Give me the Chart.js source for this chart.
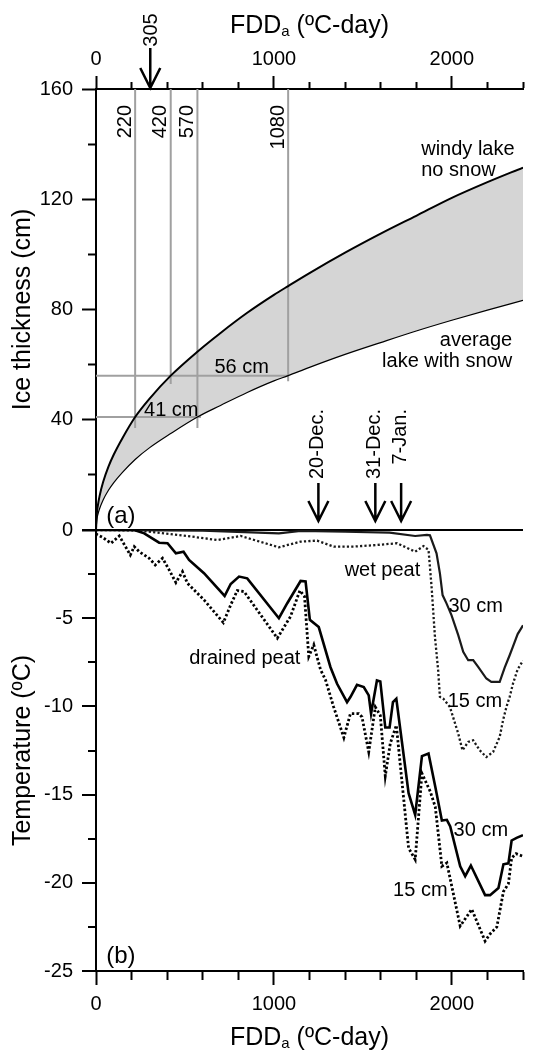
<!DOCTYPE html>
<html>
<head>
<meta charset="utf-8">
<script src="https://cdn.jsdelivr.net/npm/chart.js@4.4.1/dist/chart.umd.min.js"></script>
<style>
  html, body { margin: 0; padding: 0; background: #fff; }
  #wrap { width: 538px; height: 1051px; }
</style>
</head>
<body>
<div id="wrap"><canvas id="chart"></canvas></div>
<script>
const FONT = '"Liberation Sans", Arial, sans-serif';

// (a) ice thickness (cm) against air freezing degree-days
const fddIce = [0, 5, 10, 20, 40, 70, 100, 150, 220, 300, 420, 570, 700, 850, 1000, 1080, 1200, 1400, 1600, 1800, 2000, 2200, 2400];
const iceWindy = [0, 6.2, 8.7, 12.3, 17.4, 23, 27.4, 33.5, 41, 47.6, 56, 64.7, 71.5, 78.8, 85.3, 88.5, 93.2, 100.6, 107.5, 114, 120.5, 126.2, 131.5];
const iceSnow = [0, 3.9, 5.5, 7.7, 10.9, 14.4, 17.2, 21, 25.6, 29.8, 35, 41, 45.2, 49.9, 54.1, 56, 59, 63.7, 68, 72.2, 76.1, 79.8, 83.3];

// grey guide lines
const guideFdd = [220, 420, 570, 1080];
const guideLow = [37, 53, 37, 54];
const guideCm = [41, 56];
const guideCmEnd = [590, 1080];

const markFdd = 305;
const dateNames = ['20-Dec.', '31-Dec.', '7-Jan.'];
const dateFdd = [1250, 1570, 1715];

// (b) peat temperature (ºC)
const drained30Fdd = [0, 215, 271, 355, 402, 449, 492, 523, 607, 723, 757, 804, 850, 1028, 1075, 1150, 1178, 1202, 1252, 1318, 1355, 1411, 1430, 1467, 1505, 1533, 1546, 1579, 1598, 1626, 1650, 1669, 1688, 1757, 1794, 1832, 1869, 1907, 1944, 1972, 1991, 2047, 2075, 2107, 2187, 2215, 2262, 2290, 2318, 2336, 2364, 2400];
const drained30T = [0, 0, -0.19, -0.72, -0.75, -1.32, -1.23, -1.7, -2.45, -3.74, -3.06, -2.64, -2.74, -5.0, -4.15, -2.89, -2.92, -5.09, -5.5, -7.78, -8.72, -9.76, -9.47, -8.78, -8.9, -9.38, -10.41, -8.53, -8.59, -11.2, -11.2, -9.76, -9.57, -14.92, -16.15, -12.82, -12.67, -14.55, -16.47, -16.43, -16.8, -19.06, -19.62, -19.02, -20.7, -20.7, -20.3, -18.95, -18.9, -17.6, -17.45, -17.3];

const drained15Fdd = [0, 9, 37, 84, 131, 193, 215, 243, 299, 333, 374, 411, 449, 486, 514, 607, 716, 757, 794, 832, 1019, 1093, 1146, 1172, 1196, 1224, 1262, 1290, 1336, 1393, 1430, 1477, 1495, 1533, 1570, 1598, 1626, 1654, 1688, 1757, 1794, 1832, 1879, 1907, 1944, 1972, 2047, 2112, 2187, 2215, 2253, 2290, 2318, 2336, 2361, 2400];
const drained15T = [-0.2, -0.28, -0.42, -0.75, -0.34, -1.42, -0.94, -1.23, -1.6, -1.98, -1.6, -2.26, -2.98, -2.36, -3.02, -3.96, -5.25, -4.25, -3.43, -3.49, -6.13, -4.91, -3.43, -3.77, -7.17, -6.51, -7.92, -8.5, -10.04, -11.77, -10.41, -10.41, -10.6, -12.58, -10.04, -10.51, -13.95, -12.1, -11.07, -18.03, -18.68, -13.8, -14.83, -15.7, -19.06, -18.87, -22.45, -21.5, -23.3, -22.9, -22.5, -20.5, -20.05, -18.6, -18.35, -18.5];

const wet30Fdd = [0, 600, 1028, 1150, 1400, 1650, 1794, 1860, 1877, 1914, 1933, 1948, 1970, 1998, 2036, 2064, 2092, 2120, 2148, 2194, 2222, 2269, 2297, 2325, 2344, 2370, 2400];
const wet30T = [0, -0.03, -0.19, -0.05, -0.1, -0.15, -0.34, -0.28, -0.3, -1.32, -2.46, -3.69, -4.16, -4.82, -5.96, -6.9, -7.38, -7.38, -7.76, -8.42, -8.61, -8.61, -7.8, -7.1, -6.6, -5.9, -5.4];

const wet15Fdd = [0, 200, 308, 514, 682, 813, 1028, 1150, 1243, 1336, 1449, 1579, 1692, 1794, 1841, 1869, 1886, 1905, 1923, 1933, 1951, 1989, 2036, 2060, 2092, 2120, 2157, 2194, 2232, 2269, 2288, 2307, 2325, 2344, 2370, 2400];
const wet15T = [0, -0.02, -0.1, -0.34, -0.57, -0.34, -0.98, -0.66, -0.6, -0.94, -0.94, -0.85, -0.75, -1.23, -0.91, -1.13, -3.2, -6.05, -7.94, -9.46, -9.55, -10.03, -11.54, -12.49, -12.01, -11.92, -12.49, -12.87, -12.58, -11.73, -10.78, -10.03, -9.46, -8.7, -7.9, -7.4];

function pts(xs, ys) {
	return xs.map((v, i) => ({x: v, y: ys[i]}));
}

let datasets = [
	{data: pts(fddIce, iceWindy), yAxisID: 'y', borderColor: '#000', borderWidth: 2, fill: '+1', backgroundColor: '#d5d5d5', cubicInterpolationMode: 'monotone'},
	{data: pts(fddIce, iceSnow), yAxisID: 'y', borderColor: '#000', borderWidth: 1.2, fill: false, cubicInterpolationMode: 'monotone'},
	{data: pts(drained30Fdd, drained30T), yAxisID: 'yb', borderColor: '#000', borderWidth: 2.6},
	{data: pts(drained15Fdd, drained15T), yAxisID: 'yb', borderColor: '#000', borderWidth: 2.8, borderDash: [2.4, 2.2]},
	{data: pts(wet30Fdd, wet30T), yAxisID: 'yb', borderColor: '#1a1a1a', borderWidth: 2.2},
	{data: pts(wet15Fdd, wet15T), yAxisID: 'yb', borderColor: '#1a1a1a', borderWidth: 2.3, borderDash: [2.2, 2.2]},
];
guideFdd.forEach((f, i) => {
	datasets.push({data: [{x: f, y: 160}, {x: f, y: guideLow[i]}], yAxisID: 'y', borderColor: '#a0a0a0', borderWidth: 2});
});
guideCm.forEach((c, i) => {
	datasets.push({data: [{x: 0, y: c}, {x: guideCmEnd[i], y: c}], yAxisID: 'y', borderColor: '#a0a0a0', borderWidth: 2});
});
datasets.forEach(d => { d.xAxisID = 'x'; d.tension = d.tension || 0; });

function fddTitle(ctx, cx, base) {
	const big = '25px ' + FONT, small = '15px ' + FONT;
	ctx.font = big;
	const w1 = ctx.measureText('FDD').width;
	const w3 = ctx.measureText(' (ºC-day)').width;
	ctx.font = small;
	const w2 = ctx.measureText('a').width;
	let left = cx - (w1 + w2 + w3) / 2;
	ctx.textAlign = 'left';
	ctx.textBaseline = 'alphabetic';
	ctx.fillStyle = '#000';
	ctx.font = big;
	ctx.fillText('FDD', left, base);
	ctx.font = small;
	ctx.fillText('a', left + w1, base + 3);
	ctx.font = big;
	ctx.fillText(' (ºC-day)', left + w1 + w2, base);
}

const notes = {
	id: 'notes',
	afterDraw(chart) {
		const {ctx} = chart;
		const {x, x2, y, yb} = chart.scales;
		const X = v => x.getPixelForValue(v);
		const put = (str, px, py, align, size = 20, rot = 0) => {
			ctx.save();
			ctx.translate(px, py);
			if (rot) ctx.rotate(rot);
			ctx.font = size + 'px ' + FONT;
			ctx.textAlign = align;
			ctx.textBaseline = 'middle';
			ctx.fillStyle = '#000';
			ctx.fillText(str, 0, 0);
			ctx.restore();
		};
		const arrow = (px, y0, y1) => {
			ctx.save();
			ctx.strokeStyle = '#000';
			ctx.lineWidth = 2.5;
			ctx.beginPath();
			ctx.moveTo(px, y0);
			ctx.lineTo(px, y1);
			ctx.moveTo(px - 10, y1 - 20);
			ctx.lineTo(px, y1);
			ctx.lineTo(px + 10, y1 - 20);
			ctx.stroke();
			ctx.restore();
		};
		const up = -Math.PI / 2;
		const top = y.getPixelForValue(160);
		const zero = y.getPixelForValue(0);
		const mid = (x.left + x.right) / 2;

		ctx.save();
		fddTitle(ctx, mid, x2.top + 33);
		fddTitle(ctx, mid, x.bottom - 6);
		ctx.restore();

		// panel (a)
		guideFdd.forEach(f => put(String(f), X(f) - 10, top + 16, 'right', 20, up));
		put(String(markFdd), X(markFdd) + 1, top - 59, 'center', 20, up);
		arrow(X(markFdd), top - 41, top - 1);
		dateFdd.forEach((f, i) => {
			put(dateNames[i], X(f) - 1, zero - 121, 'right', 20, up);
			arrow(X(f), zero - 47, zero - 9);
		});
		put('windy lake', X(1828), y.getPixelForValue(138.2), 'left');
		put('no snow', X(1828), y.getPixelForValue(130.6), 'left');
		put('average', X(2339), y.getPixelForValue(68.9), 'right');
		put('lake with snow', X(2339), y.getPixelForValue(61), 'right');
		put('56 cm', X(819), y.getPixelForValue(59.1), 'center');
		put('41 cm', X(423), y.getPixelForValue(43.5), 'center');
		put('(a)', X(140), y.getPixelForValue(5.1), 'center', 24);

		// panel (b)
		put('wet peat', X(1610), yb.getPixelForValue(-2.27), 'center');
		put('drained peat', X(836), yb.getPixelForValue(-7.28), 'center');
		put('30 cm', X(2134), yb.getPixelForValue(-4.35), 'center');
		put('15 cm', X(2130), yb.getPixelForValue(-9.74), 'center');
		put('30 cm', X(2163), yb.getPixelForValue(-17.03), 'center');
		put('15 cm', X(1823), yb.getPixelForValue(-20.43), 'center');
		put('(b)', X(140), yb.getPixelForValue(-24.18), 'center', 24);
	}
};

const tickFont = {family: FONT, size: 20};
const titleFont = {family: FONT, size: 25};

function xAxis(pos, height, dash) {
	return {
		type: 'linear',
		position: pos,
		min: 0,
		max: 2400,
		afterFit: s => { s.height = height; },
		border: {color: '#000', width: 2},
		grid: {
			drawOnChartArea: false,
			tickLength: pos === 'top' ? 13 : 14,
			tickWidth: 2,
			tickColor: '#000',
			tickBorderDash: c => (c.tick && c.tick.value % 1000 === 0) ? [] : dash,
		},
		ticks: {
			stepSize: 200,
			autoSkip: false,
			maxRotation: 0,
			padding: pos === 'top' ? 5 : 7,
			color: '#000',
			font: tickFont,
			callback: v => v % 1000 === 0 ? v : '',
		},
	};
}

const chartOptions = {
	responsive: true,
	maintainAspectRatio: false,
	animation: false,
	devicePixelRatio: 1,
	layout: {padding: {left: 0, right: 15, top: 0, bottom: 0}},
	elements: {point: {radius: 0, hoverRadius: 0}},
	plugins: {
		legend: {display: false},
		tooltip: {enabled: false},
		filler: {drawTime: 'beforeDatasetsDraw'},
	},
	scales: {
		x: xAxis('bottom', 80, [8, 60]),
		x2: xAxis('top', 89, [0, 6, 7, 60]),
		yb: {
			type: 'linear',
			position: 'left',
			stack: 'panels',
			stackWeight: 1,
			weight: 0,
			min: -25,
			max: 0,
			afterFit: s => { s.width = 96; },
			border: {color: '#000', width: 2},
			grid: {
				drawOnChartArea: true,
				color: c => (c.tick && c.tick.value === 0) ? '#000' : 'rgba(0,0,0,0)',
				lineWidth: c => (c.tick && c.tick.value === 0) ? 2 : 0,
				tickLength: 14,
				tickWidth: 2,
				tickColor: '#000',
				tickBorderDash: c => (c.tick && c.tick.value % 5 === 0) ? [] : [0, 6, 8, 60],
			},
			ticks: {
				stepSize: 2.5,
				autoSkip: false,
				padding: 9,
				color: '#000',
				font: tickFont,
				callback: v => v % 5 === 0 ? v : '',
			},
			title: {display: true, text: 'Temperature (ºC)', color: '#000', font: titleFont, padding: {top: 8, bottom: 0}},
		},
		y: {
			type: 'linear',
			position: 'left',
			stack: 'panels',
			stackWeight: 1,
			weight: 1,
			min: 0,
			max: 160,
			afterFit: s => { s.width = 96; },
			border: {color: '#000', width: 2},
			grid: {
				drawOnChartArea: false,
				tickLength: 14,
				tickWidth: 2,
				tickColor: '#000',
				tickBorderDash: c => (c.tick && c.tick.value % 40 === 0) ? [] : [0, 6, 8, 60],
			},
			ticks: {
				stepSize: 20,
				autoSkip: false,
				padding: 9,
				color: '#000',
				font: tickFont,
				callback: v => (v % 40 === 0 && v !== 0) ? v : '',
			},
			title: {display: true, text: 'Ice thickness (cm)', color: '#000', font: titleFont, padding: {top: 8, bottom: 0}},
		},
	},
};

const ctx = document.getElementById('chart');
let iceChart = new Chart(ctx, {
	type: 'line',
	data: {datasets: datasets},
	options: chartOptions,
	plugins: [notes],
});
</script>
</body>
</html>
